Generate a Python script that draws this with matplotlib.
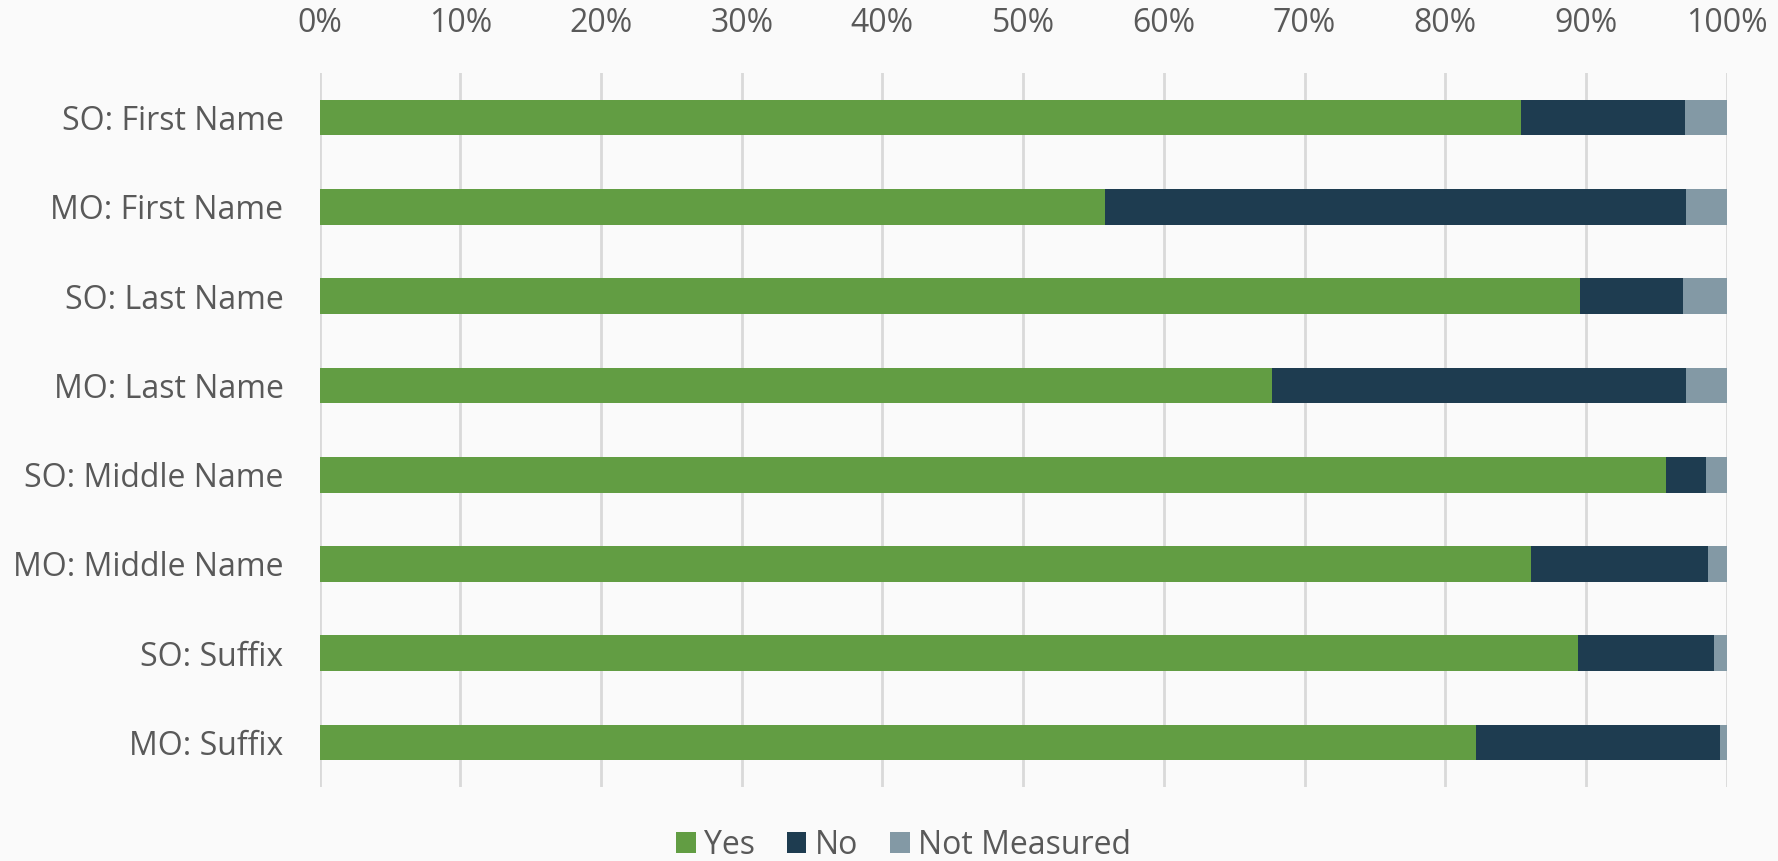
import matplotlib
matplotlib.use("Agg")
import matplotlib.pyplot as plt
from matplotlib.ticker import PercentFormatter
from matplotlib.patches import Patch

plt.rcParams['font.family'] = ['Open Sans', 'DejaVu Sans']

# data (percent of records)
categories = ["SO: First Name", "MO: First Name", "SO: Last Name", "MO: Last Name",
              "SO: Middle Name", "MO: Middle Name", "SO: Suffix", "MO: Suffix"]
yes = [85.4, 55.8, 89.6, 67.7, 95.65, 86.1, 89.4, 82.2]
no = [11.65, 41.3, 7.3, 29.4, 2.85, 12.6, 9.7, 17.3]
not_measured = [100 - a - b for a, b in zip(yes, no)]
series_names = ["Yes", "No", "Not Measured"]
colors = ["#629D43", "#1E3C50", "#8399A5"]

bg = "#FAFAFA"
txt = "#595959"

fig = plt.figure(figsize=(17.78, 8.61), dpi=100, facecolor=bg)
ax = fig.add_axes([0.1797, 0.0859, 0.9712 - 0.1797, 0.9152 - 0.0859])
ax.set_facecolor(bg)

y = list(range(len(categories)))
left = [0] * len(categories)
for vals, name, c in zip([yes, no, not_measured], series_names, colors):
    ax.barh(y, vals, left=left, height=0.4, color=c, label=name, zorder=3)
    left = [l + v for l, v in zip(left, vals)]

ax.set_xlim(0, 100)
ax.set_ylim(len(categories) - 0.5, -0.5)
ax.set_xticks(range(0, 101, 10))
ax.xaxis.set_major_formatter(PercentFormatter(decimals=0))
ax.xaxis.tick_top()
ax.set_yticks(y)
ax.set_yticklabels(categories)
ax.tick_params(axis='x', length=0, pad=24, labelsize=23, labelcolor=txt)
ax.tick_params(axis='y', length=0, pad=26, labelsize=23, labelcolor=txt)
ax.grid(axis='x', color="#D9D9D9", linewidth=2, zorder=0)
for s in ax.spines.values():
    s.set_visible(False)

handles = [Patch(facecolor=c, label=n) for c, n in zip(colors, series_names)]
leg = fig.legend(handles=handles, loc='center', bbox_to_anchor=(0.508, 0.018), ncol=3,
                 frameon=False, fontsize=23, handlelength=0.62, handleheight=0.62,
                 handletextpad=0.25, columnspacing=1.0, borderaxespad=0)
for t in leg.get_texts():
    t.set_color(txt)

fig.savefig("out.png", dpi=100, facecolor=bg)
